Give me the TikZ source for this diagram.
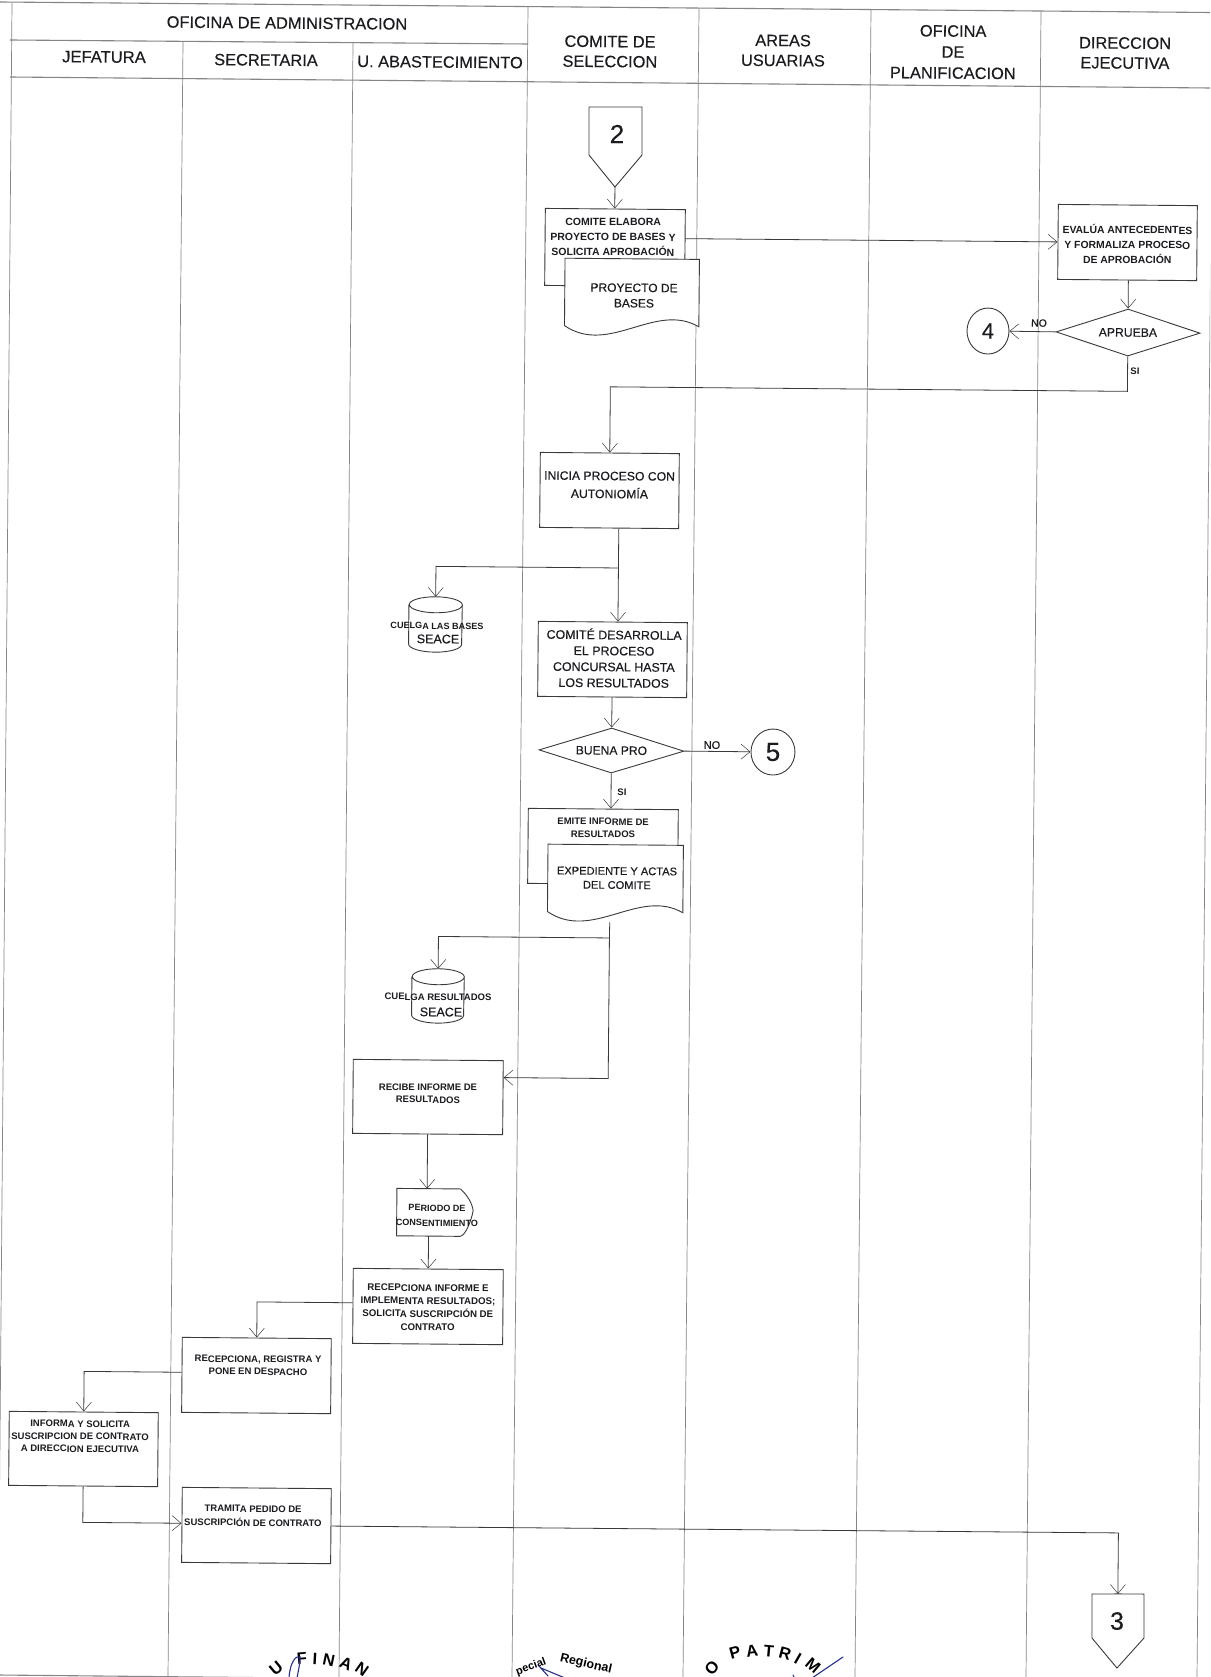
\documentclass[tikz,border=0pt]{standalone}
\usepackage{fontspec}
\setmainfont{Liberation Sans}
\newfontfamily\semib{Liberation Sans}[FakeBold=0.35]
\usetikzlibrary{shapes.geometric,arrows.meta,calc}
\definecolor{ink}{HTML}{1C1C20}
\definecolor{edge}{HTML}{3A3A3E}
\definecolor{gridc}{HTML}{858589}
\definecolor{stampblue}{HTML}{25308F}
\pgfkeys{/qcs/x/.store in=\qcsx,/qcs/y/.store in=\qcsy}
\tikzdeclarecoordinatesystem{q}{\pgfkeys{/qcs/.cd,#1}\pgfmathsetmacro\qcsu{\qcsx+0.0087*(\qcsy)}\pgfmathsetmacro\qcsv{\qcsy-0.0087*(\qcsx)}\pgfpointxy{\qcsu}{\qcsv}}
\newcommand\CylD[3]{% node, half width, ellipse ry
  \draw[shapeline,fill=white] ([yshift=-#3pt]#1.north west) -- ([yshift=#3pt]#1.south west)
    arc[start angle=180,end angle=360,x radius=#2pt,y radius=#3pt]
    -- ([yshift=-#3pt]#1.north east)
    arc[start angle=0,end angle=180,x radius=#2pt,y radius=#3pt]
    arc[start angle=180,end angle=360,x radius=#2pt,y radius=#3pt];}
\newcommand\DocD[1]{%
  \draw[shapeline,fill=white] (#1.south west) -- (#1.north west) -- (#1.north east) -- (#1.south east)
    .. controls ([xshift=-44pt,yshift=25pt]#1.south east) and ([xshift=45pt,yshift=-30pt]#1.south west) .. (#1.south west) -- cycle;}
\newcommand\fsz[2]{\fontsize{#1}{#2}\selectfont}
\tikzset{
  gridline/.style={draw=gridc,line width=.7pt},
  headline/.style={draw=gridc,line width=1.1pt},
  shapeline/.style={draw=edge,line width=.9pt},
  conn/.style={draw=edge,line width=.8pt},
  arr/.style={conn,-{Straight Barb[length=9pt,width=15pt,line width=.5pt]}},
  std/.style={rectangle,draw=edge,line width=.9pt,fill=white,inner sep=0pt,minimum width=150pt,minimum height=75pt},
  ghost/.style={rectangle,inner sep=0pt},
  dia/.style={diamond,draw=edge,line width=.9pt,fill=white,inner sep=0pt},
  circ/.style={ellipse,draw=edge,line width=.9pt,fill=white,inner sep=0pt,text=ink},
  small/.style={align=center,inner sep=0pt,text=ink,font=\bfseries\fsz{9.5}{12.5}},
  mid/.style={align=center,inner sep=0pt,text=ink,font=\semib\fsz{11}{15.5}},
  head/.style={align=center,inner sep=0pt,text=ink,font=\semib\fsz{16.4}{20}},
  tag/.style={inner sep=0pt,text=ink,font=\semib\fsz{10.5}{12}},
  stamp/.style={inner sep=0pt,text=black,font=\bfseries\fsz{16.5}{17}},
  bluepen/.style={draw=stampblue,line width=1.1pt,line cap=round}
}
\begin{document}
\begin{tikzpicture}[x=1pt,y=-1pt]
\useasboundingbox (0,0) rectangle (1210,1677);
\clip (0,0) rectangle (1210,1677);
\fill[white] (0,0) rectangle (1210,1677);
% table (screen coordinates, the scan is tilted)
\draw[headline] (0,2) -- (1210,12.5);
\draw[headline] (10,40) -- (528,44);
\draw[headline] (10,77) -- (1210,88);
\draw[headline] (0,1675) -- (300,1678);
\draw[gridline] (12,3) -- (-2,1677);
\draw[gridline] (183,42) -- (168,1677);
\draw[gridline] (353,43) -- (339,1677);
\draw[gridline] (528,7) -- (512,1677);
\draw[gridline] (699,9) -- (683,1677);
\draw[gridline] (871,10) -- (855,1677);
\draw[gridline] (1041,12) -- (1026,1677);
\draw[gridline] (1213,12) -- (1197,1677);
% stamps
\node[stamp,rotate=40] (s0) at (276,1668) {U};
\node[stamp,rotate=5] (s1) at (302,1658) {F};
\node[stamp,rotate=-3] (s2) at (315,1659) {I};
\node[stamp,rotate=-12] (s3) at (329,1660) {N};
\node[stamp,rotate=-24] (s4) at (346,1664) {A};
\node[stamp,rotate=-35] (s5) at (362,1669) {N};
\node[stamp,rotate=20,font=\bfseries\fsz{11}{12}] (s6) at (531,1667) {pecial};
\node[stamp,rotate=-13,font=\bfseries\fsz{12.5}{13}] (s7) at (586,1664) {Regional};
\node[stamp,rotate=50] (s8) at (712,1668) {O};
\node[stamp,rotate=15] (s9) at (735,1653) {P};
\node[stamp,rotate=8] (s10) at (752,1651) {A};
\node[stamp,rotate=-5] (s11) at (769,1651) {T};
\node[stamp,rotate=-15] (s12) at (785,1654) {R};
\node[stamp,rotate=-30] (s13) at (798,1659) {I};
\node[stamp,rotate=-40] (s14) at (813,1666) {M};
\draw[bluepen] (289,1678) .. controls (290,1662) and (296,1655) .. (300,1657) .. controls (300,1665) and (298,1672) .. (297,1678);
\draw[bluepen] (539,1666) -- (548,1676) (541,1668) -- (565,1678);
\draw[bluepen] (843,1657) -- (812,1678);
\draw[bluepen] (793,1675) -- (794,1677);
\begin{scope}[rotate=-0.5,transform shape]
% headers
\node[head] (hA) at (q cs:x=287,y=23) {OFICINA DE ADMINISTRACION};
\node[head,font=\semib\fsz{16.6}{20}] (hB) at (q cs:x=104,y=57) {JEFATURA};
\node[head] (hC) at (q cs:x=266,y=60) {SECRETARIA};
\node[head] (hD) at (q cs:x=440,y=62) {U. ABASTECIMIENTO};
\node[head] (hE) at (q cs:x=610,y=51.5) {COMITE DE\\SELECCION};
\node[head] (hF) at (q cs:x=783,y=50.5) {AREAS\\USUARIAS};
\node[head,font=\semib\fsz{16.4}{21}] (hG) at (q cs:x=953,y=52) {OFICINA\\DE\\PLANIFICACION};
\node[head] (hH) at (q cs:x=1125,y=53) {DIRECCION\\EJECUTIVA};
% named points
\coordinate (p2tip) at (q cs:x=615,y=187);
\coordinate (p3top) at (q cs:x=1118,y=1594);
\coordinate (j1) at (q cs:x=800,y=388.5);
\coordinate (j2) at (q cs:x=618.5,y=568);
\coordinate (j3) at (q cs:x=609.5,y=938);
\coordinate (d2low) at (q cs:x=609.8,y=922.5);
% off-page connector 2
\draw[shapeline,fill=white] (q cs:x=589,y=107) -- (q cs:x=642,y=107) -- (q cs:x=642,y=155) -- (p2tip) -- (q cs:x=589,y=155) -- cycle;
\node[inner sep=0pt,text=ink,font=\semib\fsz{26}{28}] (p2) at (q cs:x=617,y=134) {2};
% boxes
\node[std,minimum width=140pt,minimum height=77pt,
  label={[small,font=\bfseries\fsz{10.5}{15},xshift=-2pt,yshift=10.5pt]center:{COMITE ELABORA\\PROYECTO DE BASES Y\\SOLICITA APROBACIÓN}}] (b1) at (q cs:x=615,y=247.5) {};
\node[ghost,minimum width=134pt,minimum height=67pt] (d1) at (q cs:x=632,y=292.5) {};
\DocD{d1}
\node[mid,font=\semib\fsz{12}{15.5}] (d1t) at (q cs:x=634,y=295.5) {PROYECTO DE\\BASES};
\node[std,minimum width=139pt,
  label={[small,font=\bfseries\fsz{10.4}{15},yshift=-1.5pt]center:{EVALÚA ANTECEDENTES\\Y FORMALIZA PROCESO\\DE APROBACIÓN}}] (b2) at (q cs:x=1127.5,y=242.5) {};
\node[dia,minimum width=144pt,minimum height=47pt,
  label={[mid,font=\semib\fsz{12.2}{13}]center:{APRUEBA}}] (dApr) at (q cs:x=1128,y=332.5) {};
\node[circ,minimum width=42pt,minimum height=46pt,font=\semib\fsz{22}{24}] (c4) at (q cs:x=988,y=331) {4};
\node[tag] (tNo1) at (q cs:x=1039,y=323) {NO};
\node[tag,font=\bfseries\fsz{9.5}{12}] (tSi1) at (q cs:x=1135,y=371) {SI};
\node[std,minimum width=139pt,
  label={[mid,font=\semib\fsz{12.2}{18},yshift=5.5pt]center:{INICIA PROCESO CON\\AUTONIOMÍA}}] (b3) at (q cs:x=609.5,y=490.5) {};
\node[ghost,minimum width=53pt,minimum height=55pt] (c1) at (q cs:x=435.5,y=624.5) {};
\CylD{c1}{26.5}{8}
\node[small,font=\bfseries\fsz{9.1}{10}] (c1a) at (q cs:x=437,y=626) {CUELGA LAS BASES};
\node[mid,font=\semib\fsz{12.5}{13}] (c1b) at (q cs:x=438,y=639) {SEACE};
\node[std,minimum width=149pt,
  label={[mid,font=\semib\fsz{12.4}{16},xshift=1.5pt,yshift=1.5pt]center:{COMITÉ DESARROLLA\\EL PROCESO\\CONCURSAL HASTA\\LOS RESULTADOS}}] (b4) at (q cs:x=612.5,y=659.5) {};
\node[dia,minimum width=145pt,minimum height=45pt,
  label={[mid,font=\semib\fsz{12.1}{13}]center:{BUENA PRO}}] (dBP) at (q cs:x=611.5,y=750.5) {};
\node[circ,minimum width=44pt,minimum height=46pt,font=\semib\fsz{26}{28}] (c5) at (q cs:x=773,y=752) {5};
\node[tag,font=\semib\fsz{11}{12}] (tNo2) at (q cs:x=712,y=745) {NO};
\node[tag,font=\bfseries\fsz{9.5}{12}] (tSi2) at (q cs:x=622,y=792) {SI};
\node[std,
  label={[small,yshift=18.5pt]center:{EMITE INFORME DE\\RESULTADOS}}] (b5) at (q cs:x=603,y=846.5) {};
\node[ghost,minimum width=135pt,minimum height=67pt] (d2) at (q cs:x=615.5,y=878.5) {};
\DocD{d2}
\node[mid,font=\semib\fsz{11.1}{14}] (d2t) at (q cs:x=617,y=878) {EXPEDIENTE Y ACTAS\\DEL COMITE};
\node[ghost,minimum width=52pt,minimum height=54pt] (c2) at (q cs:x=438,y=996) {};
\CylD{c2}{26}{8}
\node[small,font=\bfseries\fsz{9.5}{10}] (c2a) at (q cs:x=438,y=997) {CUELGA RESULTADOS};
\node[mid,font=\semib\fsz{12.5}{13}] (c2b) at (q cs:x=441,y=1012) {SEACE};
\node[std,minimum height=74pt,
  label={[small,yshift=3.5pt]center:{RECIBE INFORME DE\\RESULTADOS}}] (b6) at (q cs:x=428,y=1097) {};
\node[ghost,minimum width=76pt,minimum height=47pt] (del) at (q cs:x=435,y=1212.5) {};
\draw[shapeline,fill=white] (del.north west) -- ([xshift=-13pt]del.north east)
  .. controls ([xshift=-6pt,yshift=-6pt]del.north east) and ([xshift=-1pt,yshift=-14pt]del.north east) .. ([yshift=2pt]del.east)
  .. controls ([xshift=-2pt,yshift=-9pt]del.east) and ([xshift=-8pt]del.south east) .. ([xshift=-13pt]del.south east)
  -- (del.south west) -- cycle;
\node[small,font=\bfseries\fsz{9.1}{15}] (delt) at (q cs:x=437,y=1215.5) {PERIODO DE\\CONSENTIMIENTO};
\node[std,
  label={[small,font=\bfseries\fsz{9.7}{13},yshift=-1pt]center:{RECEPCIONA INFORME E\\IMPLEMENTA RESULTADOS;\\SOLICITA SUSCRIPCIÓN DE\\CONTRATO}}] (b7) at (q cs:x=428,y=1306.5) {};
\node[std,minimum width=149pt,
  label={[small,xshift=1.5pt,yshift=10pt]center:{RECEPCIONA, REGISTRA Y\\PONE EN DESPACHO}}] (b8) at (q cs:x=256.5,y=1375.5) {};
\node[std,minimum width=149pt,minimum height=74pt,
  label={[small,xshift=-3.5pt,yshift=12.5pt]center:{INFORMA Y SOLICITA\\SUSCRIPCION DE CONTRATO\\A DIRECCION EJECUTIVA}}] (b9) at (q cs:x=83.5,y=1449) {};
\node[std,minimum width=149pt,
  label={[small,xshift=-3.5pt,yshift=9.5pt,font=\bfseries\fsz{9.5}{14}]center:{TRAMITA PEDIDO DE\\SUSCRIPCIÓN DE CONTRATO}}] (b10) at (q cs:x=256.5,y=1525.5) {};
% off-page connector 3
\draw[shapeline,fill=white] (q cs:x=1092,y=1594) -- (p3top) -- (q cs:x=1144,y=1594) -- (q cs:x=1144,y=1638) -- (q cs:x=1117,y=1668) -- (q cs:x=1092,y=1638) -- cycle;
\node[inner sep=0pt,text=ink,font=\semib\fsz{25}{27}] (p3) at (q cs:x=1117,y=1621) {3};
% connectors
\draw[arr] (p2tip) -- (p2tip |- b1.north);
\draw[arr] (b1.east |- b2.west) -- (b2.west);
\draw[arr] (b2.south -| dApr.north) -- (dApr.north);
\draw[arr] (dApr.west) -- (c4.east);
\draw[arr] (dApr.south) |- (j1) -| (b3.north);
\draw[arr] (j2 |- b3.south) -- (j2 |- b4.north);
\draw[arr] (j2) -| (c1.north);
\draw[arr] (b4.south) -- (dBP.north);
\draw[arr] (dBP.east) -- (c5.west);
\draw[arr] (dBP.south) -- (dBP.south |- b5.north);
\draw[conn] (d2low) -- (j3);
\draw[arr] (j3) -| (c2.north);
\draw[arr] (j3) |- ([yshift=20pt]b6.east);
\draw[arr] (b6.south) -- (b6.south |- del.north);
\draw[arr] (b7.north |- del.south) -- (b7.north);
\draw[arr] ([yshift=3pt]b7.west) -| (b8.north);
\draw[arr] ([yshift=2.5pt]b8.west) -| (b9.north);
\draw[arr] (b9.south) |- ([yshift=1.5pt]b10.west);
\draw[arr] (b10.east) -| (p3top);
\end{scope}
\end{tikzpicture}
\end{document}
